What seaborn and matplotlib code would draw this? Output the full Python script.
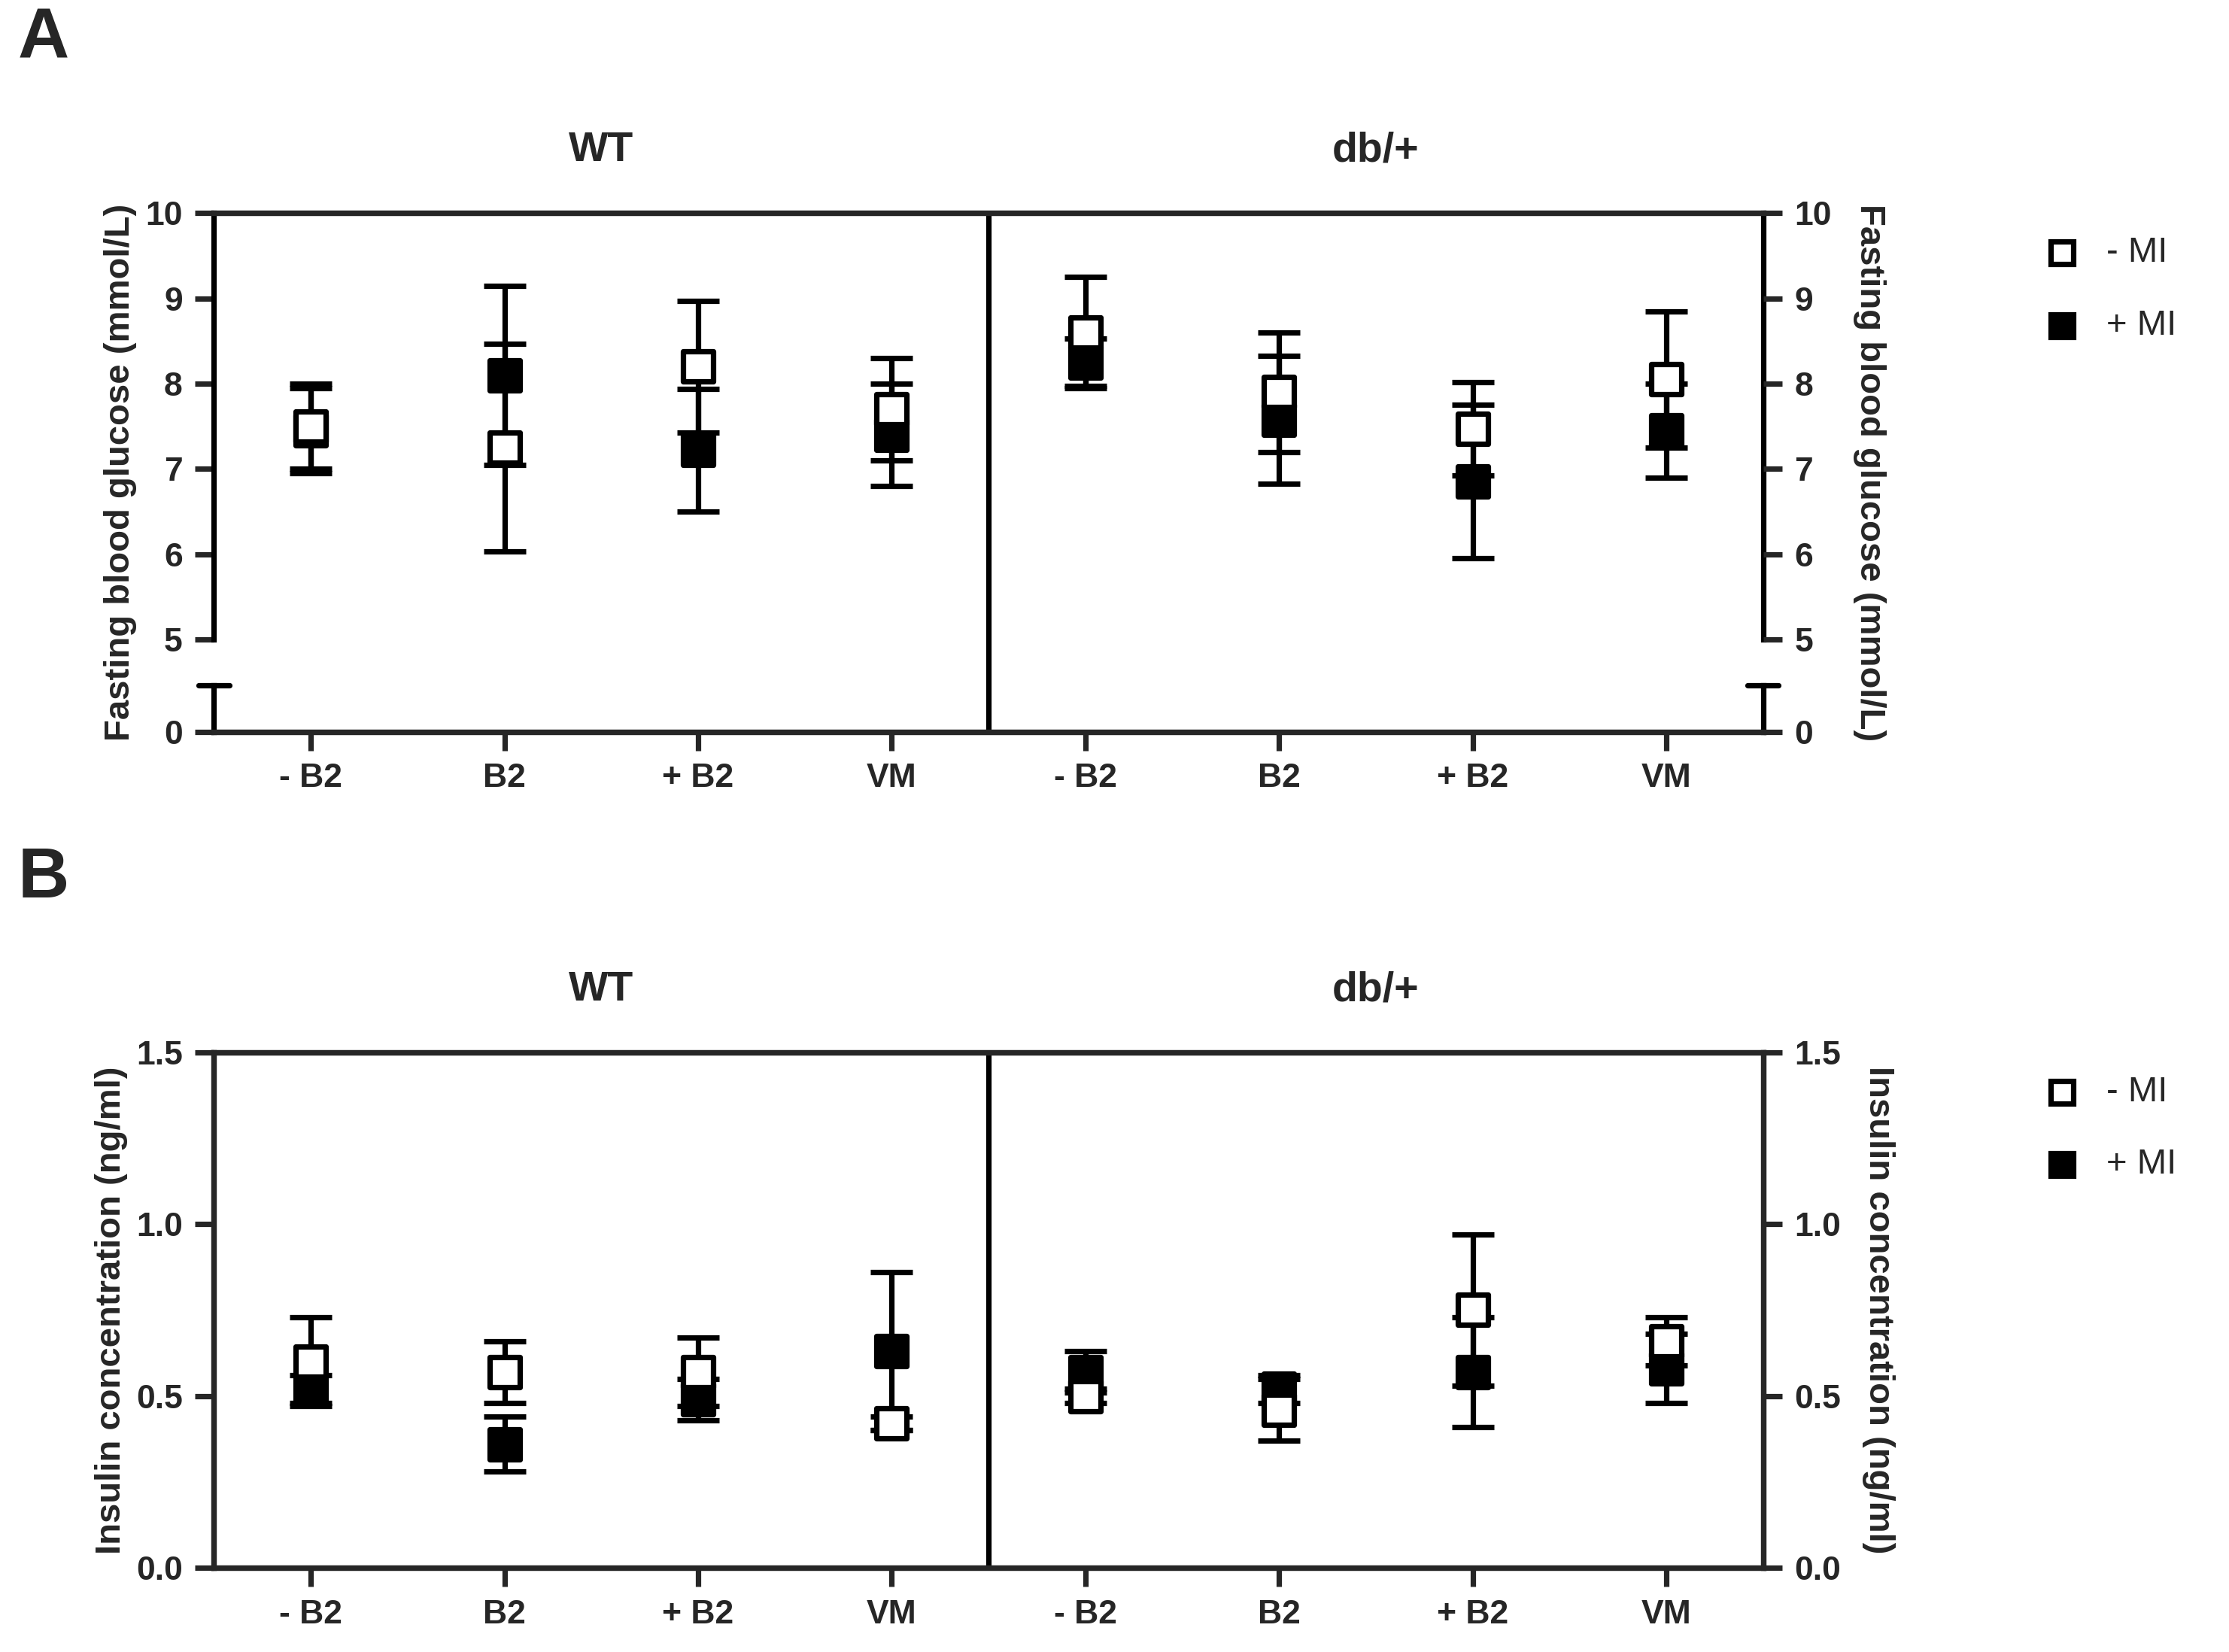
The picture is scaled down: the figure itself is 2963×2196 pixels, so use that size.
import numpy as np
import pandas as pd
import matplotlib
matplotlib.use("Agg")
import matplotlib.pyplot as plt
import seaborn as sns

categories = ["- B2", "B2", "+ B2", "VM", "- B2", "B2", "+ B2", "VM"]
groups = ["WT", "db/+"]

glu_open = [7.5, 7.25, 8.2, 7.7, 8.6, 7.9, 7.47, 8.05]
glu_open_err = [0.5, 1.22, 0.77, 0.6, 0.65, 0.7, 0.55, 0.8]
glu_fill = [7.45, 8.1, 7.22, 7.4, 8.25, 7.58, 6.85, 7.45]
glu_fill_err = [0.5, 1.05, 0.72, 0.6, 0.28, 0.75, 0.9, 0.55]

ins_open = [0.60, 0.57, 0.57, 0.42, 0.50, 0.46, 0.75, 0.66]
ins_open_err = [0.13, 0.09, 0.10, 0.02, 0.02, 0.09, 0.22, 0.07]
ins_fill = [0.52, 0.36, 0.49, 0.63, 0.57, 0.52, 0.57, 0.58]
ins_fill_err = [0.04, 0.08, 0.06, 0.23, 0.06, 0.04, 0.16, 0.10]

sns.set_style("ticks")
plt.rcParams["font.family"] = "Liberation Sans"
plt.rcParams["font.weight"] = "bold"
FS = 16
LW = 2.6

fig = plt.figure(figsize=(14.815, 10.98), dpi=200)

def fwd(v):
    v = np.asarray(v, dtype=float)
    return np.where(v <= 5, v * 13.0, 65 + (v - 5) * 60.0)

def inv(y):
    y = np.asarray(y, dtype=float)
    return np.where(y <= 65, y / 13.0, 5 + (y - 65) / 60.0)

def panel(rect, mo, me, mf, fe, ylim, yticks, ylabel, letter, broken, fmt):
    ax = fig.add_axes(rect)
    x = np.arange(len(categories))
    if broken:
        ax.set_yscale("function", functions=(fwd, inv))
    for vals, errs, face, z in [(mf, fe, "black", 3), (mo, me, "white", 4)]:
        ax.errorbar(x, vals, yerr=errs, fmt="none", ecolor="black",
                    elinewidth=LW, capsize=10, capthick=LW, zorder=z)
        df = pd.DataFrame({"x": x, "y": vals})
        sns.scatterplot(data=df, x="x", y="y", ax=ax, marker="s", s=210,
                        facecolor=face, edgecolor="black", linewidth=LW,
                        zorder=z + 0.5, legend=False)
    ax.set_xlim(-0.5, 7.5)
    ax.set_ylim(*ylim)
    ax.set_xticks(x)
    ax.set_xticklabels(categories, fontsize=FS, fontweight="bold")
    ax.set_yticks(yticks)
    labels = [fmt % t for t in yticks]
    ax.set_yticklabels(labels, fontsize=FS, fontweight="bold")
    ax.set_xlabel("")
    ax.set_ylabel(ylabel, fontsize=FS + 1, fontweight="bold")
    ax.tick_params(width=LW, length=9, pad=6)
    ax.axvline(3.5, color="black", lw=LW)
    for s in ax.spines.values():
        s.set_linewidth(LW)
    ax2 = ax.twinx()
    if broken:
        ax2.set_yscale("function", functions=(fwd, inv))
    ax2.set_ylim(*ylim)
    ax2.set_yticks(yticks)
    ax2.set_yticklabels(labels, fontsize=FS, fontweight="bold")
    ax2.set_ylabel(ylabel, fontsize=FS + 1, fontweight="bold", rotation=270, labelpad=26)
    ax2.tick_params(width=LW, length=9, pad=6)
    for s in ax2.spines.values():
        s.set_linewidth(LW)
    if broken:
        for a in (ax, ax2):
            a.spines["left"].set_visible(False)
            a.spines["right"].set_visible(False)
        y0 = float(fwd(2.5) / fwd(10))
        y1 = float(fwd(5) / fwd(10))
        for xx in (0, 1):
            ax.plot([xx, xx], [0, y0], transform=ax.transAxes, color="black", lw=LW,
                    clip_on=False, solid_capstyle="projecting", zorder=10)
            ax.plot([xx, xx], [y1, 1], transform=ax.transAxes, color="black", lw=LW,
                    clip_on=False, solid_capstyle="projecting", zorder=10)
            ax.plot([xx - 0.01, xx + 0.01], [y0, y0], transform=ax.transAxes, color="black",
                    lw=LW, clip_on=False, zorder=10)
    ax.text(0.25, 1.1, groups[0], transform=ax.transAxes, ha="center", fontsize=FS + 4, fontweight="bold")
    ax.text(0.75, 1.1, groups[1], transform=ax.transAxes, ha="center", fontsize=FS + 4, fontweight="bold")
    top = rect[1] + rect[3]
    fig.text(0.008, top + 0.125, letter, fontsize=34, fontweight="bold", va="top")
    lx = 0.925
    for i, (lab, face) in enumerate([("- MI", "white"), ("+ MI", "black")]):
        yy = top - 0.024 - i * 0.044
        fig.lines.append(plt.Line2D([lx], [yy], marker="s", markersize=11, markerfacecolor=face,
                                    markeredgecolor="black", markeredgewidth=LW, transform=fig.transFigure))
        fig.text(lx + 0.02, yy, lab, fontsize=FS + 1, va="center", fontweight="normal")
    return ax

panel([0.096, 0.557, 0.695, 0.314], glu_open, glu_open_err, glu_fill, glu_fill_err,
      (0, 10), [0, 5, 6, 7, 8, 9, 10], "Fasting blood glucose (mmol/L)", "A", True, "%g")
panel([0.096, 0.051, 0.695, 0.312], ins_open, ins_open_err, ins_fill, ins_fill_err,
      (0, 1.5), [0.0, 0.5, 1.0, 1.5], "Insulin concentration (ng/ml)", "B", False, "%.1f")

fig.savefig("out.png", dpi=200)
